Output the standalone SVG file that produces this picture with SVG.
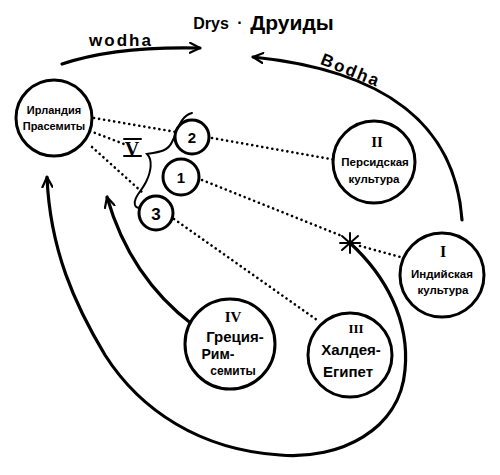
<svg xmlns="http://www.w3.org/2000/svg" width="500" height="475" viewBox="0 0 500 475">
<defs>
<style>
.node{fill:#fff;stroke:#000;stroke-width:3}
.t{font-family:"Liberation Sans",Arial,sans-serif;font-weight:bold;fill:#000;text-anchor:middle}
.num{font-family:"Liberation Serif","Times New Roman",serif;font-weight:bold;fill:#000;text-anchor:middle}
.flow{fill:none;stroke:#000;stroke-width:3.2;stroke-linecap:round}
.dot{fill:none;stroke:#000;stroke-width:2.6;stroke-dasharray:0.1 5;stroke-linecap:round}
.thin{fill:none;stroke:#000;stroke-width:2;stroke-linecap:round}
</style>
<marker id="ah" viewBox="0 0 12 12" refX="11" refY="6" markerWidth="12" markerHeight="12" markerUnits="userSpaceOnUse" orient="auto">
<path d="M1,1 L11,6 L1,11" fill="none" stroke="#000" stroke-width="2.2" stroke-linecap="round" stroke-linejoin="round"/>
</marker>
</defs>
<rect width="500" height="475" fill="#fff"/>

<g id="title">
<text class="t" x="211" y="29" font-size="16">Drys</text>
<text class="t" x="240" y="28" font-size="16">·</text>
<text class="t" x="292" y="30" font-size="21">Друиды</text>
</g>

<g id="connectors">
<path class="dot" d="M94,118 L176,132"/>
<path class="dot" d="M90,131 L124,144"/>
<path class="dot" d="M92,147 L142,192"/>
<path class="dot" d="M212,138 L336,160"/>
<path class="dot" d="M202,180 L342,236"/>
<path class="dot" d="M174,219 L317,320"/>
<path class="dot" d="M360,246 L404,258"/>
<path class="flow" d="M62,64 Q115,46 200,48" marker-end="url(#ah)"/>
<path class="flow" d="M462,220 C455,120 380,70 253,57" marker-end="url(#ah)"/>
<path class="flow" d="M350,243 C385,275 410,320 405,370 C400,430 340,460 280,455 C200,450 140,410 105,355 C75,305 50,250 47,177" marker-end="url(#ah)"/>
<path class="flow" d="M193,325 C160,300 125,260 107,197" marker-end="url(#ah)"/>
<g class="thin">
<path d="M342,236 L358,250"/>
<path d="M358,236 L342,250"/>
<path d="M350,233 L350,253"/>
<path d="M340,243 L360,243"/>
</g>
</g>

<g id="brace">
<path class="thin" d="M192,113 C180,116 178,130 172,142 C168,151 160,152 147,154 C153,160 151,172 146,182 C141,192 133,198 135,205 C137,210 141,207 143,204"/>
<text class="num" x="132" y="156" font-size="20">V</text>
<path class="thin" d="M124,139 L141,139 M124,156 L141,156"/>
</g>

<g id="n-ireland">
<circle class="node" cx="54" cy="118" r="38"/>
<text class="t" x="54" y="114" font-size="11">Ирландия</text>
<text class="t" x="54" y="130" font-size="11">Прасемиты</text>
</g>

<g id="n-2">
<circle class="node" cx="192" cy="137" r="17"/>
<text class="t" x="192" y="143" font-size="15">2</text>
</g>
<g id="n-1">
<circle class="node" cx="181" cy="177" r="18"/>
<text class="t" x="181" y="183" font-size="15">1</text>
</g>
<g id="n-3">
<circle class="node" cx="156" cy="213" r="17"/>
<text class="t" x="156" y="220" font-size="17">3</text>
</g>

<g id="n-persia">
<circle class="node" cx="374" cy="162" r="41"/>
<text class="num" x="377" y="147" font-size="15">II</text>
<text class="t" x="375" y="166" font-size="11.5">Персидская</text>
<text class="t" x="374" y="183" font-size="11.5">культура</text>
</g>

<g id="n-india">
<circle class="node" cx="442" cy="275" r="42"/>
<text class="num" x="443" y="257" font-size="16">I</text>
<text class="t" x="442" y="278" font-size="11.5">Индийская</text>
<text class="t" x="443" y="294" font-size="11.5">культура</text>
</g>

<g id="n-greece">
<circle class="node" cx="230" cy="344" r="45"/>
<text class="num" x="233" y="322" font-size="15">IV</text>
<text class="t" x="235" y="342" font-size="15">Греция-</text>
<text class="t" x="218" y="359" font-size="14">Рим-</text>
<text class="t" x="233" y="375" font-size="12">семиты</text>
</g>

<g id="n-chaldea">
<circle class="node" cx="350" cy="355" r="42"/>
<text class="num" x="356" y="333" font-size="13">III</text>
<text class="t" x="351" y="355" font-size="15">Халдея-</text>
<text class="t" x="348" y="377" font-size="15">Египет</text>
</g>

<g id="labels">
<text class="t" x="121" y="46" font-size="17" letter-spacing="2">wodha</text>
<text class="t" x="351" y="76" font-size="17" letter-spacing="2" transform="rotate(22 351 70)">Bodha</text>
</g>
</svg>
